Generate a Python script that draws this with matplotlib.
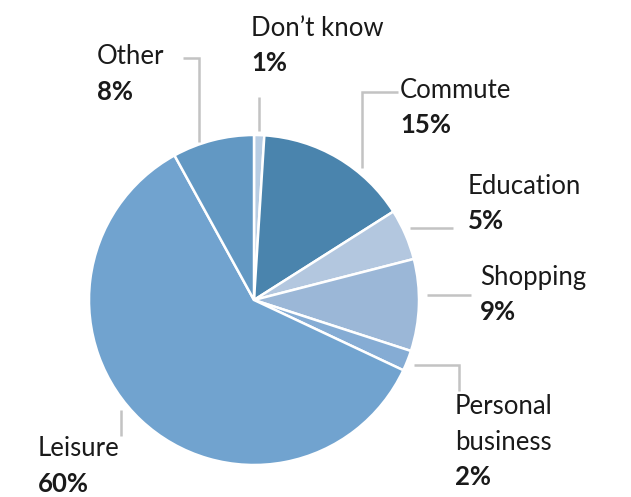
import matplotlib.pyplot as plt

plt.rcParams['font.family'] = ['Lato', 'DejaVu Sans']

labels = ["Don\u2019t know", "Commute", "Education", "Shopping",
          "Personal\nbusiness", "Leisure", "Other"]
shares = [1, 15, 5, 9, 2, 60, 8]
colors = ["#b8cde3", "#4a84ad", "#b3c7df", "#9bb7d7",
          "#85acd4", "#71a3cf", "#6298c3"]

W, H = 631, 497
fig = plt.figure(figsize=(W / 100, H / 100), dpi=100)
ax = fig.add_axes([0, 0, 1, 1])

cx, cy, r = 254, H - 300, 165
ax.pie(shares, colors=colors, startangle=90, counterclock=False,
       center=(cx, cy), radius=r, frame=True,
       wedgeprops=dict(edgecolor='white', linewidth=1.8))
ax.set_xlim(0, W)
ax.set_ylim(0, H)
ax.set_aspect('equal')
ax.axis('off')

# leader lines, in pixel coords from the top-left
leaders = [
    [(259, 97), (259, 131)],
    [(362, 168), (362, 92), (398, 92)],
    [(410, 228), (453, 228)],
    [(427, 295), (471, 295)],
    [(414, 365), (459, 365), (459, 391)],
    [(121, 410), (121, 436)],
    [(183, 58), (199, 58), (199, 142)],
]
for pts in leaders:
    xs = [p[0] for p in pts]
    ys = [H - p[1] for p in pts]
    ax.plot(xs, ys, color='#c3c3c3', lw=1.8, solid_capstyle='butt',
            solid_joinstyle='miter')

# label anchor (left x, centre y of the name's first line)
anchors = [(251, 28), (400, 90), (468, 186), (480, 277),
           (455, 407), (38, 449), (97, 57)]
step = 35
for lab, val, (x, y) in zip(labels, shares, anchors):
    lines = lab.split("\n")
    for i, ln in enumerate(lines):
        ax.text(x, H - (y + i * step), ln, fontsize=18.5, color='#1a1a1a',
                ha='left', va='center')
    ax.text(x, H - (y + len(lines) * step), f"{val}%", fontsize=18.5,
            fontweight='bold', color='#1a1a1a', ha='left', va='center')

fig.savefig("out.png", dpi=100)
